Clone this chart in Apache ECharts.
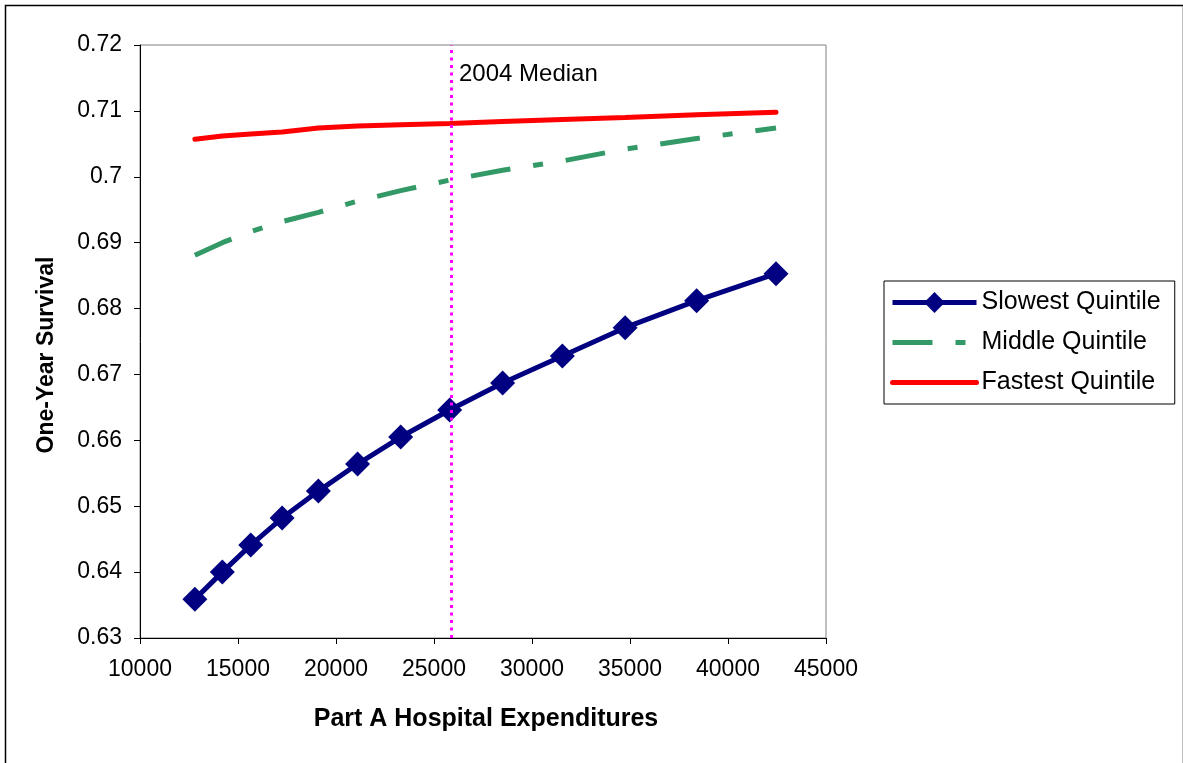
<!DOCTYPE html>
<html>
<head>
<meta charset="utf-8">
<script src="https://cdn.jsdelivr.net/npm/echarts@6/dist/echarts.min.js"></script>
<style>
html,body{margin:0;padding:0;background:#fff;}
#chart{width:1183px;height:763px;}
</style>
</head>
<body>
<div id="chart"></div>
<script>
const expenditures = [12800, 14200, 15650, 17250, 19100, 21100, 23300, 25800, 28500, 31550, 34750, 38400, 42450];
const slowest = [0.6359, 0.6400, 0.6441, 0.6482, 0.6523, 0.6564, 0.6605, 0.6646, 0.6687, 0.6728, 0.6771, 0.6812, 0.6853];
const middle = [0.6881, 0.6900, 0.6917, 0.6932, 0.6946, 0.6963, 0.6979, 0.6995, 0.7010, 0.7024, 0.7042, 0.7058, 0.7074];
const fastest = [0.7057, 0.7062, 0.7065, 0.7068, 0.7074, 0.7077, 0.7079, 0.7081, 0.7084, 0.7087, 0.7090, 0.7094, 0.7098];
const seriesNames = ['Slowest Quintile', 'Middle Quintile', 'Fastest Quintile'];
const medianValue = 25900;
const medianLabel = '2004 Median';
const xTitle = 'Part A Hospital Expenditures';
const yTitle = 'One-Year Survival';

const pairs = ys => expenditures.map((x, i) => [x, ys[i]]);
const FONT = '"Liberation Sans", Arial, sans-serif';
const NAVY = '#000080', GREEN = '#339966', RED = '#FF0000';
const DASH = [40, 23, 10, 23];

const chart = echarts.init(document.getElementById('chart'), null, {renderer: 'canvas'});
chart.setOption({
  animation: false,
  backgroundColor: '#fff',
  textStyle: {fontFamily: FONT, color: '#000'},
  grid: {left: 140, top: 45, width: 686, height: 593, show: true, borderColor: '#808080', borderWidth: 1, backgroundColor: 'transparent'},
  xAxis: {
    type: 'value', min: 10000, max: 45000, interval: 5000,
    axisLine: {show: true, onZero: false, lineStyle: {color: '#000', width: 1}},
    axisTick: {show: true, inside: false, length: 6, lineStyle: {color: '#000'}},
    axisLabel: {fontSize: 23, color: '#000', fontFamily: FONT, margin: 20, formatter: v => String(v)},
    splitLine: {show: false}
  },
  yAxis: {
    type: 'value', min: 0.63, max: 0.72, interval: 0.01,
    axisLine: {show: true, onZero: false, lineStyle: {color: '#000', width: 1}},
    axisTick: {show: true, inside: false, length: 6, lineStyle: {color: '#000'}},
    axisLabel: {fontSize: 23, color: '#000', fontFamily: FONT, margin: 18,
      formatter: v => String(Math.round(v * 100) / 100)},
    splitLine: {show: false}
  },
  legend: {
    orient: 'vertical', left: 884, top: 281,
    padding: [9, 14, 9, 6],
    itemGap: 15, itemWidth: 84, itemHeight: 26,
    borderColor: '#000', borderWidth: 1,
    textStyle: {fontSize: 25, color: '#000', fontFamily: FONT},
    data: [
      {name: seriesNames[0], lineStyle: {width: 5, color: NAVY}},
      {name: seriesNames[1], itemStyle: {opacity: 0}, lineStyle: {width: 5, color: GREEN, type: DASH}},
      {name: seriesNames[2], itemStyle: {opacity: 0}, lineStyle: {width: 5, color: RED}}
    ]
  },
  graphic: [
    {type: 'rect', left: 3, top: 3, shape: {width: 1178, height: 780}, style: {fill: 'none', stroke: '#000', lineWidth: 1.5}, silent: true},
    {type: 'text', x: 486, y: 719, style: {text: xTitle, font: 'bold 25px ' + FONT, fill: '#000', textAlign: 'center', textVerticalAlign: 'middle'}},
    {type: 'text', rotation: Math.PI / 2, x: 47, y: 355, style: {text: yTitle, font: 'bold 23px ' + FONT, fill: '#000', textAlign: 'center', textVerticalAlign: 'middle'}},
    {type: 'text', x: 459, y: 62, style: {text: medianLabel, font: '24px ' + FONT, fill: '#000'}}
  ],
  series: [
    {
      name: seriesNames[0], type: 'line', data: pairs(slowest),
      symbol: 'diamond', symbolSize: 25,
      lineStyle: {color: NAVY, width: 5},
      itemStyle: {color: NAVY},
      z: 3
    },
    {
      name: seriesNames[1], type: 'line', data: pairs(middle),
      symbol: 'none', showSymbol: false,
      lineStyle: {color: GREEN, width: 5, type: DASH, cap: 'butt'},
      itemStyle: {color: GREEN},
      z: 2
    },
    {
      name: seriesNames[2], type: 'line', data: pairs(fastest),
      symbol: 'none', showSymbol: false,
      lineStyle: {color: RED, width: 5, cap: 'round'},
      itemStyle: {color: RED},
      z: 2,
      markLine: {
        silent: true, symbol: 'none',
        label: {show: false},
        lineStyle: {color: '#FF00FF', width: 3, type: [3, 4.5]},
        data: [{xAxis: medianValue}]
      }
    }
  ]
});
</script>
</body>
</html>
